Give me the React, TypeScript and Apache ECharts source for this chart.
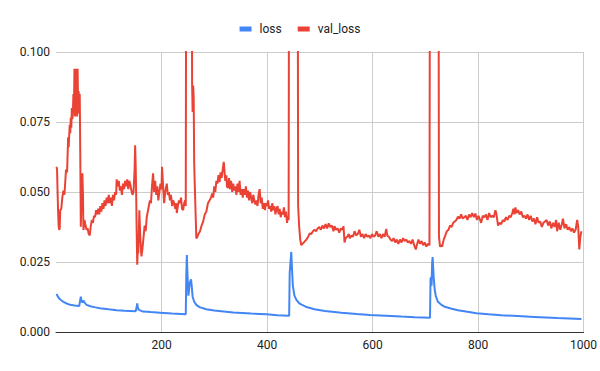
import React, { useEffect, useRef } from "react";
import * as echarts from "echarts";

const seriesNames = ["loss", "val_loss"];
const xTicks = [200, 400, 600, 800, 1000];
const yTicks = [0, 0.025, 0.05, 0.075, 0.1];

// [epoch, loss]
const lossData: [number, number][] = [
  [1, 0.0136], [3, 0.0128], [6, 0.012], [10, 0.0113], [14, 0.0108], [20, 0.0102], [27, 0.0097], [35, 0.0095],
  [44, 0.0093], [45, 0.0093], [46, 0.0115], [47, 0.0126], [48, 0.0115], [50, 0.0105], [52, 0.0112], [53, 0.0113],
  [55, 0.0103], [58, 0.0097], [65, 0.0092], [75, 0.0088], [83, 0.0085], [100, 0.0081], [115, 0.0078], [130, 0.0076],
  [151, 0.0074], [152, 0.008], [154, 0.0102], [155, 0.0088], [157, 0.0079], [165, 0.0073], [180, 0.0071], [197, 0.0069],
  [220, 0.0066], [246, 0.0063], [247, 0.02], [248, 0.0275], [249, 0.0215], [251, 0.013], [253, 0.0165], [254, 0.0178],
  [256, 0.0188], [257, 0.017], [259, 0.0126], [262, 0.0108], [266, 0.0097], [272, 0.0089], [285, 0.0081], [300, 0.0077],
  [336, 0.007], [370, 0.0066], [399, 0.0063], [420, 0.006], [442, 0.0058], [443, 0.021], [445, 0.026], [446, 0.0286],
  [447, 0.024], [449, 0.0165], [452, 0.013], [456, 0.0114], [462, 0.0101], [475, 0.0089], [490, 0.0081], [510, 0.0075],
  [541, 0.0069], [570, 0.0064], [595, 0.0061], [625, 0.0058], [655, 0.0055], [680, 0.0053], [709, 0.0051], [710, 0.019],
  [711, 0.0195], [712, 0.0165], [713, 0.0245], [714, 0.0268], [715, 0.023], [716, 0.0195], [718, 0.015], [720, 0.0128],
  [724, 0.0108], [730, 0.0098], [737, 0.009], [750, 0.0083], [762, 0.0078], [780, 0.0072], [797, 0.0067], [820, 0.0063],
  [844, 0.006], [875, 0.0057], [907, 0.0054], [950, 0.005], [996, 0.0046],
];

// [epoch, val_loss]
const valLossData: [number, number][] = [
  [1, 0.059], [2, 0.058], [3, 0.05], [4, 0.043], [5, 0.038], [6, 0.0365], [7, 0.037], [8, 0.0435], [10, 0.044],
  [12, 0.048], [14, 0.0505], [16, 0.049], [18, 0.055], [19, 0.058], [21, 0.057], [23, 0.0695], [24, 0.066], [26, 0.074],
  [27, 0.071], [28, 0.0765], [29, 0.073], [30, 0.08], [31, 0.076], [32, 0.078], [33, 0.085], [34, 0.08], [35, 0.094],
  [36, 0.077], [37, 0.094], [38, 0.079], [39, 0.094], [40, 0.077], [41, 0.094], [42, 0.078], [43, 0.086], [44, 0.08],
  [45, 0.085], [46, 0.064], [47, 0.0376], [48, 0.045], [50, 0.0567], [51, 0.05], [52, 0.0364], [54, 0.04], [56, 0.038],
  [58, 0.0365], [60, 0.037], [62, 0.035], [64, 0.0345], [66, 0.038], [68, 0.04], [70, 0.039], [72, 0.0415], [74, 0.041],
  [76, 0.0435], [78, 0.042], [80, 0.044], [82, 0.042], [84, 0.045], [86, 0.043], [88, 0.046], [90, 0.044], [92, 0.047],
  [94, 0.045], [96, 0.048], [98, 0.046], [100, 0.049], [102, 0.046], [104, 0.048], [106, 0.045], [108, 0.049],
  [110, 0.047], [112, 0.05], [114, 0.049], [115, 0.0545], [117, 0.052], [119, 0.054], [121, 0.0505], [123, 0.052],
  [125, 0.049], [127, 0.053], [129, 0.051], [131, 0.054], [133, 0.052], [135, 0.0545], [137, 0.051], [139, 0.054],
  [141, 0.0525], [143, 0.0505], [145, 0.049], [147, 0.05], [149, 0.058], [150, 0.0667], [151, 0.06], [152, 0.049],
  [153, 0.035], [154, 0.024], [155, 0.03], [156, 0.028], [157, 0.036], [158, 0.0435], [159, 0.038], [160, 0.033],
  [162, 0.027], [164, 0.03], [166, 0.034], [168, 0.038], [170, 0.036], [172, 0.041], [174, 0.043], [176, 0.045],
  [178, 0.047], [180, 0.046], [182, 0.052], [184, 0.0567], [186, 0.05], [188, 0.054], [190, 0.049], [192, 0.052],
  [194, 0.047], [196, 0.05], [198, 0.053], [200, 0.051], [201, 0.059], [203, 0.052], [205, 0.046], [207, 0.05],
  [210, 0.053], [212, 0.049], [214, 0.05], [216, 0.047], [218, 0.049], [220, 0.045], [222, 0.047], [224, 0.046],
  [226, 0.044], [228, 0.046], [229, 0.0425], [231, 0.045], [233, 0.047], [235, 0.046], [237, 0.048], [239, 0.044],
  [241, 0.0435], [243, 0.046], [245, 0.047], [246, 0.045], [248, 0.3], [256, 0.3], [258, 0.089], [259, 0.0786],
  [260, 0.088], [261, 0.084], [262, 0.06], [263, 0.053], [265, 0.04], [266, 0.0334], [268, 0.034], [270, 0.035],
  [273, 0.036], [276, 0.038], [279, 0.0395], [282, 0.042], [285, 0.043], [288, 0.046], [291, 0.047], [294, 0.048],
  [296, 0.0495], [298, 0.048], [300, 0.052], [302, 0.05], [304, 0.054], [306, 0.053], [308, 0.056], [310, 0.0535],
  [312, 0.057], [314, 0.055], [316, 0.058], [318, 0.0608], [320, 0.056], [321, 0.054], [323, 0.056], [324, 0.052],
  [326, 0.0515], [328, 0.055], [330, 0.051], [332, 0.054], [334, 0.05], [336, 0.053], [338, 0.0505], [340, 0.052],
  [342, 0.049], [344, 0.053], [346, 0.05], [348, 0.054], [350, 0.049], [352, 0.051], [354, 0.048], [356, 0.051],
  [358, 0.049], [360, 0.052], [362, 0.048], [364, 0.0505], [366, 0.047], [368, 0.05], [370, 0.048], [372, 0.046],
  [374, 0.049], [376, 0.047], [378, 0.0455], [380, 0.047], [382, 0.045], [384, 0.049], [386, 0.051], [388, 0.046],
  [390, 0.048], [392, 0.044], [394, 0.046], [396, 0.0435], [398, 0.046], [400, 0.045], [402, 0.047], [404, 0.044],
  [406, 0.045], [408, 0.043], [410, 0.046], [412, 0.0435], [414, 0.045], [416, 0.042], [418, 0.044], [420, 0.045],
  [422, 0.042], [424, 0.044], [426, 0.041], [428, 0.043], [430, 0.042], [432, 0.0445], [434, 0.041], [436, 0.043],
  [438, 0.039], [440, 0.0415], [441, 0.04], [443, 0.3], [457, 0.3], [459, 0.045], [461, 0.0376], [463, 0.033],
  [465, 0.031], [467, 0.0315], [470, 0.032], [472, 0.0325], [475, 0.033], [478, 0.034], [481, 0.0352], [484, 0.035],
  [487, 0.036], [490, 0.0365], [493, 0.036], [496, 0.037], [499, 0.0375], [502, 0.0365], [505, 0.038], [508, 0.037],
  [511, 0.0385], [514, 0.037], [517, 0.0388], [520, 0.0375], [523, 0.038], [526, 0.036], [528, 0.0378], [531, 0.0365],
  [534, 0.037], [537, 0.0355], [540, 0.037], [543, 0.0365], [545, 0.0378], [547, 0.032], [549, 0.0335], [552, 0.034],
  [555, 0.035], [557, 0.0335], [560, 0.0345], [563, 0.034], [566, 0.036], [569, 0.0345], [572, 0.035], [575, 0.0365],
  [578, 0.034], [581, 0.035], [584, 0.0335], [587, 0.035], [590, 0.034], [593, 0.0345], [596, 0.0335], [599, 0.035],
  [602, 0.034], [605, 0.0345], [608, 0.036], [611, 0.034], [614, 0.035], [617, 0.0335], [620, 0.035], [623, 0.034],
  [626, 0.0368], [628, 0.0345], [631, 0.034], [634, 0.033], [637, 0.0325], [640, 0.0335], [643, 0.032], [646, 0.033],
  [649, 0.0315], [652, 0.033], [655, 0.032], [658, 0.0335], [661, 0.0325], [664, 0.033], [667, 0.032], [670, 0.0325],
  [673, 0.0315], [676, 0.033], [679, 0.031], [682, 0.0295], [684, 0.031], [687, 0.033], [690, 0.0315], [693, 0.0325],
  [696, 0.031], [699, 0.032], [702, 0.0305], [705, 0.0315], [708, 0.031], [710, 0.3], [724, 0.3], [726, 0.034],
  [728, 0.0305], [730, 0.031], [732, 0.0305], [735, 0.033], [738, 0.0345], [741, 0.036], [744, 0.0365], [747, 0.038],
  [750, 0.0375], [753, 0.039], [756, 0.0395], [759, 0.04], [762, 0.0412], [765, 0.0405], [768, 0.042], [771, 0.0405],
  [774, 0.041], [777, 0.0415], [780, 0.04], [783, 0.042], [786, 0.041], [789, 0.0425], [792, 0.041], [795, 0.0423],
  [798, 0.04], [801, 0.0415], [804, 0.04], [806, 0.039], [809, 0.0415], [812, 0.041], [815, 0.042], [818, 0.04],
  [821, 0.0425], [824, 0.041], [827, 0.0415], [830, 0.041], [833, 0.0435], [835, 0.042], [838, 0.038], [841, 0.039],
  [844, 0.0385], [847, 0.04], [850, 0.0395], [853, 0.041], [856, 0.04], [859, 0.0415], [862, 0.041], [865, 0.0425],
  [867, 0.044], [869, 0.042], [871, 0.0445], [873, 0.0425], [876, 0.0435], [879, 0.042], [882, 0.043], [885, 0.041],
  [888, 0.0415], [891, 0.0405], [894, 0.042], [897, 0.04], [900, 0.0415], [903, 0.0395], [906, 0.0405], [909, 0.0385],
  [912, 0.041], [915, 0.039], [918, 0.0395], [921, 0.0375], [924, 0.039], [927, 0.0395], [930, 0.04], [933, 0.038],
  [936, 0.0395], [939, 0.037], [942, 0.039], [945, 0.0375], [948, 0.04], [950, 0.036], [953, 0.039], [956, 0.0365],
  [959, 0.0385], [961, 0.0405], [964, 0.037], [967, 0.0385], [970, 0.0365], [973, 0.0375], [976, 0.036], [979, 0.037],
  [982, 0.0355], [985, 0.0365], [988, 0.04], [990, 0.0375], [992, 0.0295], [994, 0.034], [996, 0.036],
];

const FONT = "Roboto, 'Noto Sans', sans-serif";

export default function App() {
  const ref = useRef<HTMLDivElement>(null);
  useEffect(() => {
    if (!ref.current) return;
    const chart = echarts.init(ref.current, undefined, { renderer: "svg" });
    chart.setOption({
      animation: false,
      backgroundColor: "#ffffff",
      textStyle: { fontFamily: FONT },
      legend: {
        data: seriesNames,
        top: 18,
        left: "center",
        icon: "rect",
        itemWidth: 12,
        itemHeight: 5,
        itemGap: 16,
        textStyle: { fontFamily: FONT, fontSize: 12, color: "#222222", padding: [0, 0, 0, 3] },
      },
      grid: { left: 56, right: 16, top: 52, bottom: 39, containLabel: false },
      xAxis: {
        type: "value",
        min: 0,
        max: xTicks[xTicks.length - 1],
        interval: xTicks[1] - xTicks[0],
        axisLine: { show: true, lineStyle: { color: "#333333", width: 1 } },
        axisTick: { show: false },
        axisLabel: {
          showMinLabel: false,
          margin: 7,
          fontFamily: FONT,
          fontSize: 12,
          color: "#222222",
          formatter: (v: number) => String(v),
        },
        splitLine: { show: true, showMinLine: false, lineStyle: { color: "#cccccc", width: 1 } },
      },
      yAxis: {
        type: "value",
        min: yTicks[0],
        max: yTicks[yTicks.length - 1],
        interval: yTicks[1] - yTicks[0],
        axisLine: { show: false },
        axisTick: { show: false },
        axisLabel: {
          margin: 6,
          fontFamily: FONT,
          fontSize: 12,
          color: "#222222",
          formatter: (v: number) => v.toFixed(3),
        },
        splitLine: { show: true, lineStyle: { color: "#cccccc", width: 1 } },
      },
      series: [
        {
          name: seriesNames[0],
          type: "line",
          data: lossData,
          showSymbol: false,
          clip: true,
          color: "#4285F4",
          lineStyle: { width: 2, color: "#4285F4" },
        },
        {
          name: seriesNames[1],
          type: "line",
          data: valLossData,
          showSymbol: false,
          clip: true,
          color: "#EA4335",
          lineStyle: { width: 2, color: "#EA4335" },
        },
      ],
    });
    return () => chart.dispose();
  }, []);
  return (
    <div
      ref={ref}
      style={{ position: "fixed", left: 0, top: 0, width: 600, height: 371, background: "#fff" }}
    />
  );
}
